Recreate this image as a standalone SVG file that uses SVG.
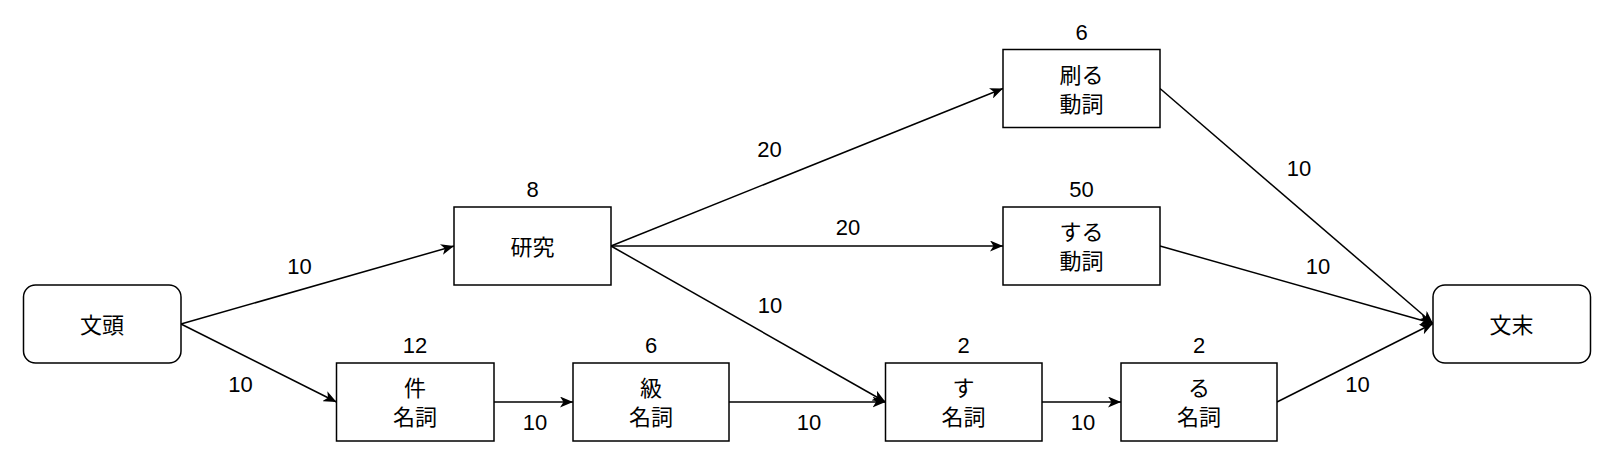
<svg xmlns="http://www.w3.org/2000/svg" width="1612" height="453" viewBox="0 0 1612 453">
  <defs>
    <style>
      .box { fill: #ffffff; stroke: #000000; stroke-width: 1.5; }
      .edge { fill: none; stroke: #000000; stroke-width: 1.5; }
      .jp { font-family: "Noto Sans CJK JP", "Liberation Sans", sans-serif; font-size: 22px; fill: #000000; text-anchor: middle; }
      .num { font-family: "Liberation Sans", "Noto Sans CJK JP", sans-serif; font-size: 22px; fill: #000000; text-anchor: middle; }
    </style>
    <marker id="arrow" markerUnits="userSpaceOnUse" markerWidth="14" markerHeight="11" refX="13" refY="5.5" orient="auto">
      <path d="M0,0 L13,5.5 L0,11 L3.5,5.5 Z" fill="#000000"/>
    </marker>
  </defs>
  <rect width="1612" height="453" fill="#ffffff"/>

  <g id="connectors">
    <line class="edge" x1="181" y1="324" x2="454" y2="246" marker-end="url(#arrow)"/>
    <line class="edge" x1="181" y1="324" x2="336.5" y2="402" marker-end="url(#arrow)"/>
    <line class="edge" x1="611" y1="246" x2="1003" y2="88.5" marker-end="url(#arrow)"/>
    <line class="edge" x1="611" y1="246" x2="1003" y2="246" marker-end="url(#arrow)"/>
    <line class="edge" x1="611" y1="246" x2="885.5" y2="402" marker-end="url(#arrow)"/>
    <line class="edge" x1="494" y1="402" x2="573" y2="402" marker-end="url(#arrow)"/>
    <line class="edge" x1="729" y1="402" x2="885.5" y2="402" marker-end="url(#arrow)"/>
    <line class="edge" x1="1042" y1="402" x2="1121" y2="402" marker-end="url(#arrow)"/>
    <line class="edge" x1="1277" y1="402" x2="1433" y2="323.5" marker-end="url(#arrow)"/>
    <line class="edge" x1="1160" y1="88.5" x2="1433" y2="323.5" marker-end="url(#arrow)"/>
    <line class="edge" x1="1160" y1="246" x2="1433" y2="323.5" marker-end="url(#arrow)"/>

    <text class="num" x="299.5" y="273.5">10</text>
    <text class="num" x="240.5" y="391.5">10</text>
    <text class="num" x="769.5" y="156.5">20</text>
    <text class="num" x="848" y="234.5">20</text>
    <text class="num" x="770" y="313">10</text>
    <text class="num" x="535" y="429.5">10</text>
    <text class="num" x="809" y="429.5">10</text>
    <text class="num" x="1083" y="429.5">10</text>
    <text class="num" x="1357.5" y="391.5">10</text>
    <text class="num" x="1318" y="274">10</text>
    <text class="num" x="1299" y="176">10</text>
  </g>

  <g id="node-bunto">
    <rect class="box" x="23.5" y="285" width="157.5" height="78" rx="12" ry="12"/>
    <text class="jp" x="102" y="333">文頭</text>
  </g>

  <g id="node-kenkyu">
    <rect class="box" x="454" y="207" width="157" height="78"/>
    <text class="num" x="532.5" y="197">8</text>
    <text class="jp" x="532.5" y="255">研究</text>
  </g>

  <g id="node-suru-doshi1">
    <rect class="box" x="1003" y="49.5" width="157" height="78"/>
    <text class="num" x="1081.5" y="39.5">6</text>
    <text class="jp" x="1081.5" y="82.5">刷る</text>
    <text class="jp" x="1081.5" y="111.5">動詞</text>
  </g>

  <g id="node-suru-doshi2">
    <rect class="box" x="1003" y="207" width="157" height="78"/>
    <text class="num" x="1081.5" y="197">50</text>
    <text class="jp" x="1081.5" y="240">する</text>
    <text class="jp" x="1081.5" y="269">動詞</text>
  </g>

  <g id="node-ken">
    <rect class="box" x="336.5" y="363" width="157.5" height="78"/>
    <text class="num" x="415" y="353">12</text>
    <text class="jp" x="415" y="396">件</text>
    <text class="jp" x="415" y="425">名詞</text>
  </g>

  <g id="node-kyu">
    <rect class="box" x="573" y="363" width="156" height="78"/>
    <text class="num" x="651" y="353">6</text>
    <text class="jp" x="651" y="396">級</text>
    <text class="jp" x="651" y="425">名詞</text>
  </g>

  <g id="node-su">
    <rect class="box" x="885.5" y="363" width="156.5" height="78"/>
    <text class="num" x="963.5" y="353">2</text>
    <text class="jp" x="963.5" y="396">す</text>
    <text class="jp" x="963.5" y="425">名詞</text>
  </g>

  <g id="node-ru">
    <rect class="box" x="1121" y="363" width="156" height="78"/>
    <text class="num" x="1199" y="353">2</text>
    <text class="jp" x="1199" y="396">る</text>
    <text class="jp" x="1199" y="425">名詞</text>
  </g>

  <g id="node-bunmatsu">
    <rect class="box" x="1433" y="285" width="157.5" height="78" rx="12" ry="12"/>
    <text class="jp" x="1511.5" y="333">文末</text>
  </g>
</svg>
